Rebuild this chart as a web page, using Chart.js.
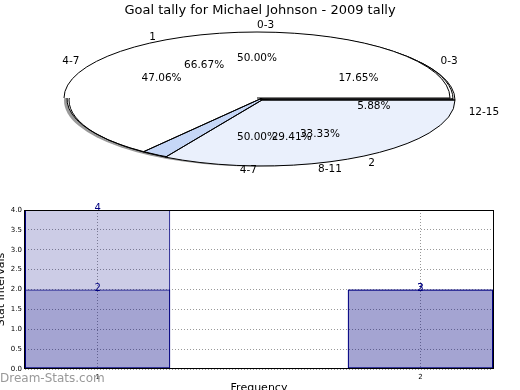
<!DOCTYPE html>
<html>
<head>
<meta charset="utf-8">
<script src="https://cdn.jsdelivr.net/npm/chart.js@4.4.0/dist/chart.umd.min.js"></script>
<style>
  html, body { margin: 0; padding: 0; background: #fff; overflow: hidden; }
  body { width: 520px; height: 390px; position: relative; }
  #pie { position: absolute; left: 0; top: 0; }
  #bars { position: absolute; left: -8px; top: 195px; }
  #mark { position: absolute; left: 0; top: 371px; font: 12px "DejaVu Sans", sans-serif; color: #999; }
</style>
</head>
<body>
<canvas id="pie" width="520" height="200"></canvas>
<canvas id="bars" width="530" height="205"></canvas>
<div id="mark">Dream-Stats.com</div>
<script>
// pie data: three pies drawn on top of each other
const intervalLabels = ["0-3", "4-7", "8-11", "12-15"];
const intervalGoals = [3, 8, 5, 1];
const freqLabels = ["1", "2"];
const freqCounts = [4, 2];
const halfLabels = ["0-3", "4-7"];
const halfCounts = [1, 1];

// bar data
const freqTicks = [1, 2];
const yTickValues = [0, 0.5, 1, 1.5, 2, 2.5, 3, 3.5, 4];
const barsBack = [4, 2];
const barsFront = [2, 2];
const barTextBack = ["4", "3"];
const barTextFront = ["2", "2"];

const FONT = "'DejaVu Sans', sans-serif";
const RX = 193, RY = 66;
// screen centre of each pie, and how its edges are stroked
const pieCentres = [[260, 99], [262, 100], [257, 98]];
const pieEdges = ["full", "full", "rim"];

function ellipsePoint(c, ang, f) {
  return [c[0] + f * RX * Math.cos(ang), c[1] - f * RY * Math.sin(ang)];
}

const squashPie = {
  id: "squashPie",
  afterDatasetsUpdate(chart) {
    chart.data.datasets.forEach((ds, i) => {
      chart.getDatasetMeta(i).data.forEach(arc => {
        arc.innerRadius = 0;
        arc.outerRadius = RX;
      });
    });
  },
  beforeDatasetsDraw(chart) {
    // drop shadow under the pies
    const ctx = chart.ctx;
    const c = pieCentres[0];
    ctx.save();
    ctx.fillStyle = "#9a9a9a";
    ctx.beginPath();
    ctx.ellipse(c[0] - 3, c[1] + 1.5, RX, RY, 0, 0, Math.PI * 2);
    ctx.fill();
    ctx.restore();
  },
  beforeDatasetDraw(chart, args) {
    const ctx = chart.ctx;
    const arc0 = args.meta.data[0];
    const c = pieCentres[args.index];
    ctx.save();
    ctx.translate(c[0], c[1]);
    ctx.scale(1, -RY / RX);
    ctx.translate(-arc0.x, -arc0.y);
  },
  afterDatasetDraw(chart, args) {
    const ctx = chart.ctx;
    ctx.restore();
    const c = pieCentres[args.index];
    const mode = pieEdges[args.index];
    const colors = chart.data.datasets[args.index].backgroundColor;
    ctx.save();
    ctx.strokeStyle = "#000";
    ctx.lineWidth = 1;
    args.meta.data.forEach((arc, j) => {
      if (mode === "rim" && colors[j] === "rgba(0,0,0,0)") return;
      ctx.beginPath();
      ctx.moveTo(c[0], c[1]);
      ctx.ellipse(c[0], c[1], RX, RY, 0, -arc.startAngle, -arc.endAngle, true);
      if (mode === "full") ctx.closePath();
      ctx.stroke();
    });
    ctx.restore();
  },
  afterDraw(chart) {
    const ctx = chart.ctx;
    ctx.save();
    ctx.font = "10.5px " + FONT;
    ctx.fillStyle = "#000";
    ctx.textBaseline = "middle";
    chart.data.datasets.forEach((ds, i) => {
      const c = pieCentres[i];
      const total = ds.data.reduce((a, b) => a + b, 0);
      chart.getDatasetMeta(i).data.forEach((arc, j) => {
        const mid = (arc.startAngle + arc.endAngle) / 2;
        let p = ellipsePoint(c, mid, 1.1);
        ctx.textAlign = Math.cos(mid) >= 0 ? "left" : "right";
        ctx.fillText(ds.labels[j], p[0], p[1]);
        p = ellipsePoint(c, mid, 0.6);
        ctx.textAlign = "center";
        ctx.fillText((ds.data[j] / total * 100).toFixed(2) + "%", p[0], p[1]);
      });
    });
    ctx.restore();
  }
};

new Chart(document.getElementById("pie"), {
  type: "pie",
  data: {
    datasets: [
      {
        labels: intervalLabels,
        data: intervalGoals,
        backgroundColor: ["#ffffff", "#ffffff", "#c6d7f7", "#c6d7f7"],
        order: 3,
      },
      {
        labels: freqLabels,
        data: freqCounts,
        backgroundColor: ["rgba(0,0,0,0)", "#eaf0fc"],
        order: 2,
      },
      {
        labels: halfLabels,
        data: halfCounts,
        backgroundColor: ["#ffffff", "rgba(0,0,0,0)"],
        order: 1,
      },
    ],
  },
  options: {
    responsive: false,
    animation: false,
    rotation: 90,
    events: [],
    datasets: {
      pie: { borderWidth: 0, clip: false, hoverOffset: 0 },
    },
    plugins: {
      legend: { display: false },
      tooltip: { enabled: false },
      title: {
        display: true,
        text: "Goal tally for Michael Johnson - 2009 tally",
        color: "#000",
        font: { family: FONT, size: 13, weight: "normal" },
        padding: { top: 3, bottom: 0 },
      },
    },
  },
  plugins: [squashPie],
});

// bar chart
const plotFrame = {
  id: "plotFrame",
  afterDatasetsDraw(chart) {
    const ctx = chart.ctx;
    const a = chart.chartArea;
    ctx.save();
    ctx.font = "10px " + FONT;
    ctx.fillStyle = "#000080";
    ctx.textAlign = "center";
    ctx.textBaseline = "alphabetic";
    chart.data.datasets.forEach((ds, i) => {
      chart.getDatasetMeta(i).data.forEach((bar, j) => {
        ctx.fillText(ds.texts[j], bar.x, bar.y + 1);
      });
    });
    ctx.strokeStyle = "#000";
    ctx.lineWidth = 1;
    ctx.strokeRect(Math.round(a.left) - 0.5, Math.round(a.top) + 0.5,
      Math.round(a.right - a.left) + 1, Math.round(a.bottom - a.top) - 1);
    ctx.restore();
  }
};

const barStyle = {
  backgroundColor: "rgba(0,0,128,0.2)",
  borderColor: "#000080",
  borderWidth: 1,
  borderSkipped: false,
  grouped: false,
  categoryPercentage: 1,
  barPercentage: 0.45,
};

new Chart(document.getElementById("bars"), {
  type: "bar",
  data: {
    datasets: [
      { ...barStyle, texts: barTextBack, data: freqTicks.map((f, i) => ({ x: f, y: barsBack[i] })) },
      { ...barStyle, texts: barTextFront, data: freqTicks.map((f, i) => ({ x: f, y: barsFront[i] })) },
    ],
  },
  options: {
    responsive: false,
    animation: false,
    events: [],
    layout: { padding: { top: 15, right: 29, left: 0, bottom: 0 } },
    plugins: { legend: { display: false }, tooltip: { enabled: false } },
    scales: {
      x: {
        type: "linear",
        offset: false,
        min: 0.775,
        max: 2.225,
        afterBuildTicks: s => { s.ticks = freqTicks.map(v => ({ value: v })); },
        afterFit: s => { s.height = 31; },
        border: { display: false, dash: [1, 2] },
        grid: { color: "#999", drawTicks: false, offset: false },
        ticks: { color: "#000", font: { family: FONT, size: 7 }, padding: 4, maxRotation: 0 },
        title: {
          display: true, text: "Frequency", color: "#000",
          font: { family: FONT, size: 11 }, padding: { top: 2, bottom: 5 },
        },
      },
      y: {
        min: 0,
        max: 4,
        afterBuildTicks: s => { s.ticks = yTickValues.map(v => ({ value: v })); },
        afterFit: s => { s.width = 33; },
        border: { display: false, dash: [1, 2] },
        grid: { color: "#999", drawTicks: false },
        ticks: { color: "#000", font: { family: FONT, size: 7 }, padding: 3, callback: v => v.toFixed(1) },
        title: {
          display: true, text: "Stat Intervals", color: "#000",
          font: { family: FONT, size: 11 }, padding: { top: 3, bottom: 0 },
        },
      },
    },
  },
  plugins: [plotFrame],
});
</script>
</body>
</html>
